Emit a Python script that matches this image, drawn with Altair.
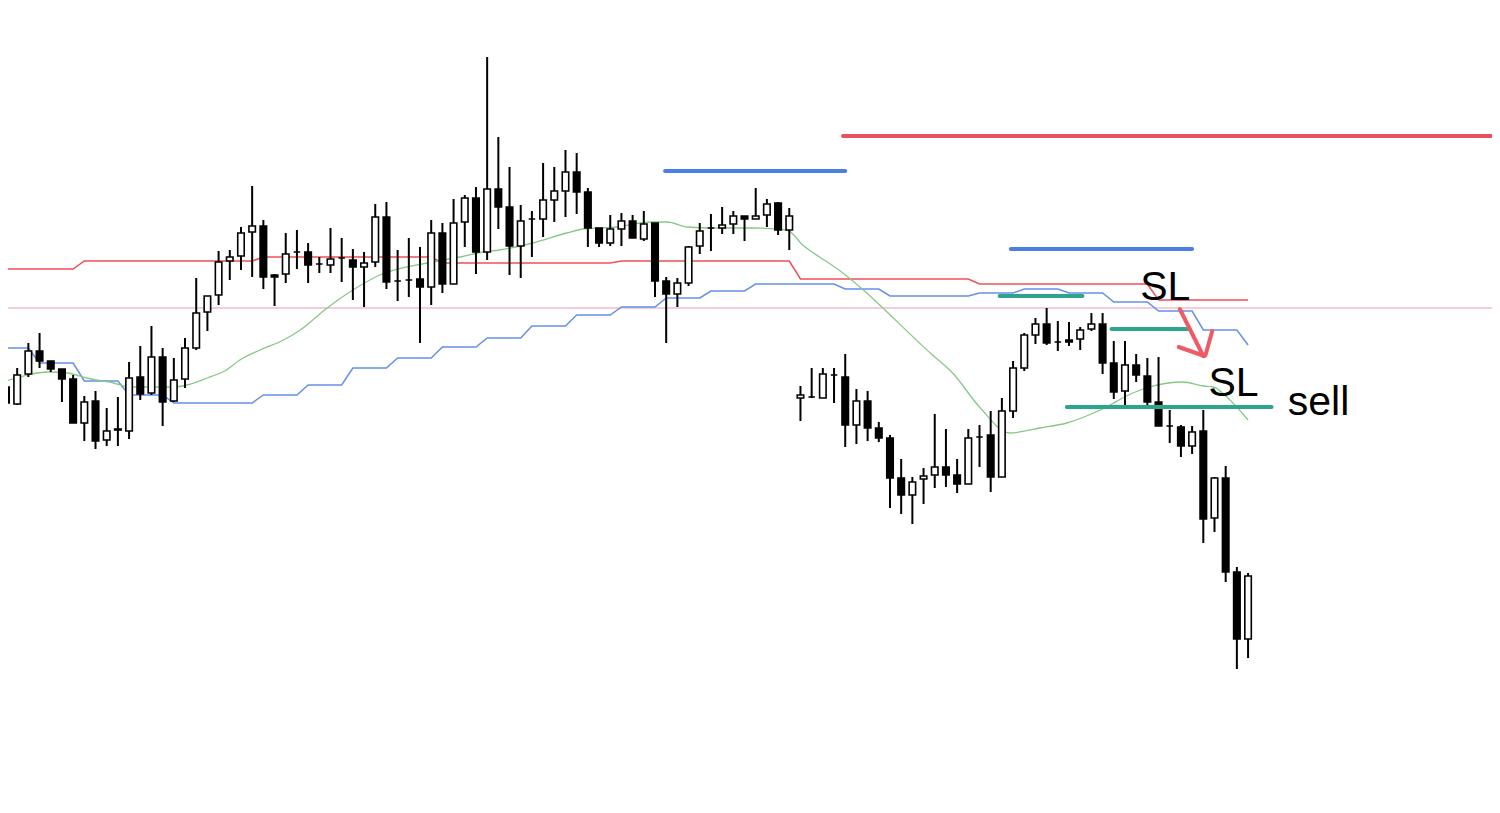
import altair as alt
import pandas as pd

# ---- candle data (price units, one entry per bar) ----
opens = [426,409,439,462,452,444,434,390,412,373,
         383,382,436,420,456,412,434,465,501,518,
         552,557,581,587,538,539,561,561,549,548,
         555,553,546,551,596,532,533,534,526,580,
         529,591,615,561,624,606,567,594,594,613,
         622,641,621,585,570,584,592,574,590,532,
         519,530,567,585,585,589,597,594,598,610,
         583,415,416,415,438,436,388,412,385,375,
         335,318,334,338,346,338,329,376,378,336,
         402,445,478,489,471,473,474,484,489,450,
         422,448,437,411,387,386,367,382,295,335,
         241,174]
closes = [410,438,462,452,444,434,390,411,372,382,
          384,435,419,456,411,433,465,500,517,551,
          556,580,587,536,536,559,561,548,549,554,
          555,546,550,596,531,532,533,526,580,529,
          590,615,561,624,606,567,592,594,613,622,
          641,621,585,570,584,592,575,589,532,519,
          530,566,582,585,588,597,594,597,609,583,
          597,418,416,439,438,388,412,385,375,335,
          318,331,337,346,338,329,375,376,336,402,
          445,478,489,470,471,471,483,489,450,421,
          448,438,411,387,387,367,381,294,335,241,
          174,237]
highs = [428,445,470,480,452,444,438,417,422,405,
         416,451,467,487,465,455,475,535,517,562,
         563,586,627,593,539,580,583,570,556,585,
         575,564,561,609,611,563,575,566,593,590,
         614,618,626,756,676,646,608,602,650,646,
         663,660,625,585,598,600,598,602,590,536,
         535,567,590,599,606,602,597,625,614,611,
         605,427,445,445,445,459,424,422,391,378,
         354,336,345,399,384,354,384,388,402,415,
         452,480,495,505,492,491,486,500,500,472,
         472,459,455,456,403,388,387,403,336,347,
         246,240]
lows = [406,408,436,445,441,411,390,372,364,367,
        367,374,413,418,387,411,425,463,482,508,
        533,543,536,524,507,530,544,530,540,540,
        531,513,506,546,524,512,516,470,508,520,
        529,566,539,553,584,538,535,556,576,591,
        596,599,566,566,567,567,575,572,516,470,
        506,527,559,562,579,579,572,594,586,578,
        563,392,415,415,410,366,369,372,371,305,
        299,289,309,325,326,320,329,346,321,336,
        395,442,469,468,462,467,463,482,439,414,
        406,431,408,387,370,356,359,270,281,231,
        144,155]

# ---- indicator lines (bar index, price) ----
red_band_i = [-0.6, 6, 7, 22, 23, 38, 39, 54, 55, 70, 71, 86, 87, 102, 103, 111]
red_band_p = [544, 544, 552, 552, 556, 556, 550, 550, 552, 552, 534, 534, 529, 529, 513, 513]

blue_band_i = [-0.6, 2, 3, 6, 7, 10, 11, 14, 15, 22, 23, 26, 27, 30, 31, 34, 35, 38, 39, 42,
               43, 46, 47, 50, 51, 54, 55, 58, 59, 62, 63, 66, 67, 74, 75, 78, 79, 86, 87, 90,
               91, 94, 95, 98, 99, 102, 103, 106, 107, 110, 111]
blue_band_p = [465, 465, 450, 450, 432, 432, 418, 418, 410, 410, 418, 418, 428, 428, 445, 445, 455, 455, 466, 466,
               475, 475, 487, 487, 498, 498, 506, 506, 515, 515, 522, 522, 529, 529, 524, 524, 517, 517, 520, 520,
               524, 524, 520, 520, 511, 511, 502, 502, 483, 483, 468]

green_i = [0, 3.9, 5.5, 7.2, 9.6, 11.1, 14.9, 16.2, 18.0, 19.7, 20.9, 22.7, 24.8, 26.3, 28.7, 31.0,
           33.4, 37.6, 40.6, 42.6, 44.1, 47.1, 50.1, 51.6, 54.6, 57.6, 59.1, 60.9, 63.2, 66.8, 69.8,
           71.2, 72.7, 73.8, 82.8, 84.6, 87.0, 89.7, 92.4, 94.8, 97.8, 100.7, 102.2, 105.2, 107.0,
           107.9, 109.1, 111]
green_p = [432, 441, 440, 435, 430, 426, 426, 428, 435, 443, 453, 463, 473, 483, 505, 523,
           538, 550, 556, 561, 563, 570, 580, 584, 586, 591, 591, 586, 585, 585, 583,
           568, 556, 548, 458, 440, 406, 380, 385, 390, 403, 420, 426, 431, 427,
           426, 416, 393]

pink_level = 505

# ---- drawn annotations ----
ann_x1 = [74.8, 58.9, 89.8, 88.8, 98.8, 94.8]
ann_x2 = [134.0, 75.0, 106.0, 96.2, 105.8, 113.1]
ann_p = [677, 642, 564, 517, 484, 406]
ann_kind = ["red", "blue", "blue", "teal", "teal", "teal"]

arrow_x1 = [104.9, 104.8, 107.8]
arrow_p1 = [504, 466, 482]
arrow_x2 = [107.0, 107.1, 107.2]
arrow_p2 = [457, 457, 458]

text_i = [103.6, 109.7, 117.3]
text_p = [513, 417, 398]
text_labels = ["SL", "SL", "sell"]

# ---- build tables ----
n = len(opens)
candles = pd.DataFrame({"i": list(range(n)), "open": opens, "close": closes,
                        "high": highs, "low": lows})
candles["up"] = candles["close"] >= candles["open"]

red_df = pd.DataFrame({"i": red_band_i, "p": red_band_p})
blue_df = pd.DataFrame({"i": blue_band_i, "p": blue_band_p})
green_df = pd.DataFrame({"i": green_i, "p": green_p})
pink_df = pd.DataFrame({"i": [-1, 134], "p": [pink_level, pink_level]})
ann_df = pd.DataFrame({"x1": ann_x1, "x2": ann_x2, "p": ann_p, "kind": ann_kind})
arrow_df = pd.DataFrame({"x1": arrow_x1, "p1": arrow_p1, "x2": arrow_x2, "p2": arrow_p2})
text_df = pd.DataFrame({"i": text_i, "p": text_p, "label": text_labels})

xs = alt.Scale(domain=[0.18, 132.8], nice=False, zero=False)
ys = alt.Scale(domain=[8, 805], nice=False, zero=False)

def X(field):
    return alt.X(field, type="quantitative", scale=xs, axis=None)

def Y(field):
    return alt.Y(field, type="quantitative", scale=ys, axis=None)

pink = alt.Chart(pink_df).mark_line(color="#f2bccb", strokeWidth=1.5, clip=True).encode(x=X("i"), y=Y("p"))
red_line = alt.Chart(red_df).mark_line(color="#ef4f55", strokeWidth=1.5, clip=True).encode(x=X("i"), y=Y("p"))
blue_line = alt.Chart(blue_df).mark_line(color="#6490ec", strokeWidth=1.5, clip=True).encode(x=X("i"), y=Y("p"))
green_line = alt.Chart(green_df).mark_line(color="#86c986", strokeWidth=1.3, clip=True,
                                           interpolate="monotone").encode(x=X("i"), y=Y("p"))

wicks = alt.Chart(candles).mark_rule(color="black", strokeWidth=2, clip=True).encode(
    x=X("i"), y=Y("low"), y2=alt.Y2("high"))

bodies = alt.Chart(candles).transform_calculate(
    xl="datum.i - 0.29", xr="datum.i + 0.29"
).mark_rect(stroke="black", strokeWidth=1.6, clip=True).encode(
    x=X("xl"), x2=alt.X2("xr"), y=Y("open"), y2=alt.Y2("close"),
    fill=alt.Fill("up:N", scale=alt.Scale(domain=[True, False], range=["white", "black"]), legend=None))

ann = alt.Chart(ann_df).mark_rule(strokeWidth=4, clip=True, strokeCap="round").encode(
    x=X("x1"), x2=alt.X2("x2"), y=Y("p"),
    color=alt.Color("kind:N", scale=alt.Scale(domain=["red", "blue", "teal"],
                                               range=["#e8525e", "#4b7fe5", "#2ca58c"]), legend=None))

arrow = alt.Chart(arrow_df).mark_rule(strokeWidth=4, color="#ee5a66", strokeCap="round").encode(
    x=X("x1"), x2=alt.X2("x2"), y=Y("p1"), y2=alt.Y2("p2"))

texts = alt.Chart(text_df).mark_text(fontSize=41, font="Liberation Sans", color="black",
                                     align="center", baseline="alphabetic").encode(
    x=X("i"), y=Y("p"), text="label:N")

chart = alt.layer(pink, red_line, blue_line, green_line, wicks, bodies, ann, arrow, texts).properties(
    width=1484, height=797, padding=0, background="white"
).configure_view(strokeWidth=0)

chart.save("out.html", embed_options={"renderer": "svg", "actions": False})
